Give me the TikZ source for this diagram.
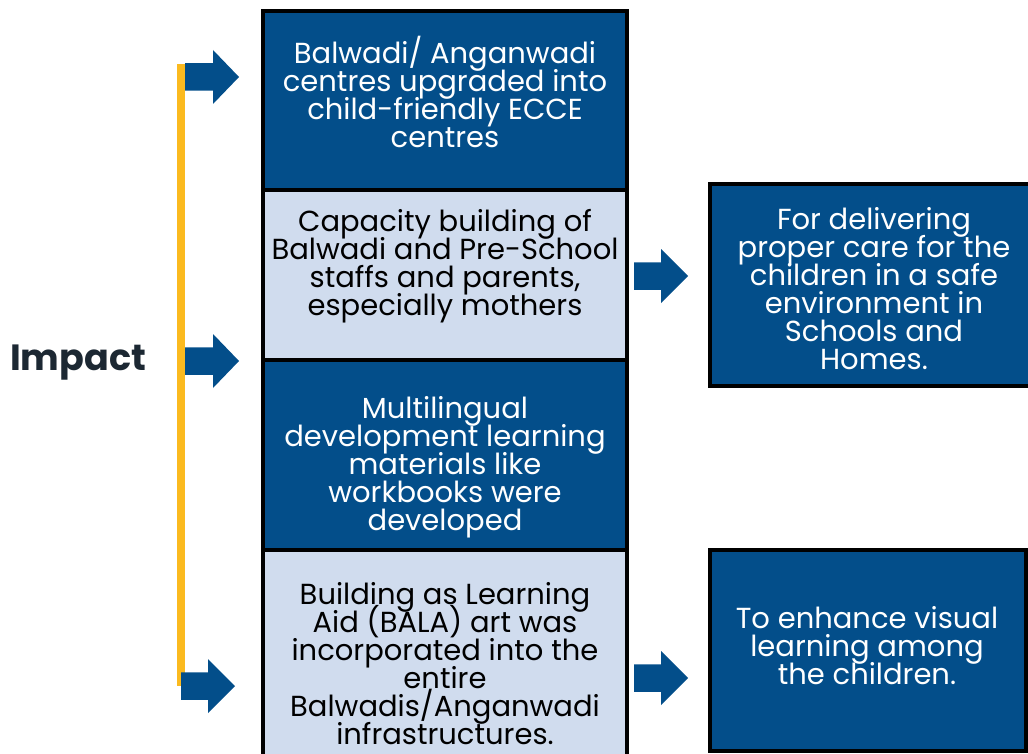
\documentclass[tikz,border=0pt]{standalone}
\usepackage{fontspec}
\setmainfont{Poppins}
\definecolor{dblue}{HTML}{034E8A}
\definecolor{lblue}{HTML}{D0DCEE}
\definecolor{ylw}{HTML}{FBBA1F}
\definecolor{ink}{HTML}{1C2833}
\newcommand{\boxfont}{\fontsize{29}{28}\selectfont\lineskiplimit=-50pt\lineskip=0pt}
\tikzset{
  darkbox/.style={fill=dblue,draw=black,line width=4pt},
  lightbox/.style={fill=lblue,draw=black,line width=4pt},
  wtxt/.style={text=white,align=center,inner sep=0pt,font=\boxfont},
  btxt/.style={text=black,align=center,inner sep=0pt,font=\boxfont},
  blockarr/.style={fill=dblue,draw=none}
}
% #1 body start x, #2 head start x, #3 tip x, #4 center y
\newcommand{\blockarrow}[4]{%
  \fill[blockarr] (#1,#4-13.75) -- (#2,#4-13.75) -- (#2,#4-27) -- (#3,#4) -- (#2,#4+27) -- (#2,#4+13.75) -- (#1,#4+13.75) -- cycle;}
\begin{document}
\begin{tikzpicture}[x=1pt,y=-1pt]
\useasboundingbox (0,0) rectangle (1028,754);
\begin{scope}
\clip (0,0) rectangle (1028,754);
% left column boxes
\draw[darkbox] (263,11) rectangle (627,190);
\draw[lightbox] (263,190) rectangle (627,360);
\draw[darkbox] (263,360) rectangle (627,550);
\draw[lightbox] (263,550) rectangle (627,760);
% right boxes
\draw[darkbox] (710,184) rectangle (1040,386);
\draw[darkbox] (710,550) rectangle (1026,751);
\end{scope}
% texts
\node[wtxt] (t1) at (445,92) {Balwadi/ Anganwadi\\centres upgraded into\\child-friendly ECCE\\centres};
\node[btxt] (t2) at (445,266) {Capacity building of\\Balwadi and Pre-School\\staffs and parents,\\especially mothers};
\node[wtxt] (t3) at (445,467) {Multilingual\\development learning\\materials like\\workbooks were\\developed};
\node[btxt] (t4) at (445,664) {Building as Learning\\Aid (BALA) art was\\incorporated into the\\entire\\Balwadis/Anganwadi\\infrastructures.};
\node[wtxt] (r1) at (874,289) {For delivering\\proper care for the\\children in a safe\\environment in\\Schools and\\Homes.};
\node[wtxt] (r2) at (867,646) {To enhance visual\\learning among\\the children.};
% impact
\node[text=ink,inner sep=0pt,font=\fontsize{36.5}{40}\bfseries\selectfont] (imp) at (78,363) {Impact};
% yellow bar
\fill[ylw] (177,64) rectangle (185,686);
% arrows
\blockarrow{185}{213}{239}{77}
\blockarrow{185}{213}{239}{361}
\blockarrow{181}{208}{235}{686}
\blockarrow{634}{661}{688}{276}
\blockarrow{634}{661}{688}{678}
\end{tikzpicture}
\end{document}
